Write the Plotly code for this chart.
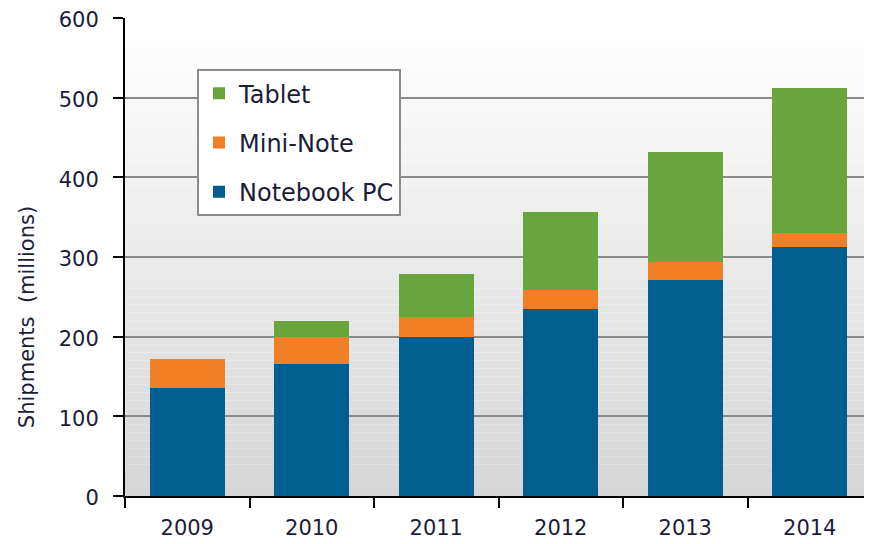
import plotly.graph_objects as go

years = ["2009", "2010", "2011", "2012", "2013", "2014"]
notebook_pc = [136, 166, 200, 235, 271, 312]
mini_note = [36, 33, 25, 23, 23, 18]
tablet = [0, 21, 54, 98, 138, 182]
y_ticks = [0, 100, 200, 300, 400, 500, 600]

FONT = "DejaVu Sans"
TXT = "#1c1c3a"

fig = go.Figure()
fig.add_trace(go.Bar(name="Notebook PC", x=years, y=notebook_pc, marker_color="#005E91",
                     marker_line_width=0, legendgroup="a", legendrank=3))
fig.add_trace(go.Bar(name="Mini-Note", x=years, y=mini_note, marker_color="#F07F25",
                     marker_line_width=0, legendgroup="b", legendrank=2))
fig.add_trace(go.Bar(name="Tablet", x=years, y=tablet, marker_color="#6AA43C",
                     marker_line_width=0, legendgroup="c", legendrank=1))

# vertical gradient background (white at top to light gray at bottom)
n = 60
shapes = []
for i in range(n):
    t = i / (n - 1)  # 0 at bottom, 1 at top
    c = int(round(214 + (255 - 214) * t))
    shapes.append(dict(type="rect", xref="paper", yref="paper",
                       x0=0, x1=1, y0=i / n, y1=(i + 1) / n,
                       fillcolor=f"rgb({c},{c},{c})", line_width=0, layer="below"))

fig.update_layout(
    barmode="stack",
    bargap=0.4,
    width=864, height=536,
    margin=dict(l=117, r=0, t=10, b=48, autoexpand=False),
    paper_bgcolor="white",
    plot_bgcolor="rgba(0,0,0,0)",
    shapes=shapes,
    font=dict(family=FONT, size=21, color=TXT),
    legend=dict(
        x=0.0964, y=0.893, xanchor="left", yanchor="top",
        traceorder="grouped", bgcolor="white",
        bordercolor="#8c8c8c", borderwidth=2,
        font=dict(family=FONT, size=24, color=TXT),
        tracegroupgap=15, itemwidth=30,
    ),
    xaxis=dict(
        showline=True, linecolor="black", linewidth=2,
        ticks="outside", ticklen=10, tickcolor="black", tickwidth=1.5,
        tickson="boundaries", showgrid=False,
        ticklabelstandoff=12,
        tickfont=dict(family=FONT, size=21, color=TXT),
    ),
    yaxis=dict(
        range=[0, 600], tickvals=y_ticks,
        showline=True, linecolor="black", linewidth=2,
        ticks="outside", ticklen=10, tickcolor="black", tickwidth=1.5,
        showgrid=True, gridcolor="#8a8a8a", gridwidth=1.5,
        zeroline=False,
        ticklabelstandoff=10,
        ticklabelshift=2,
        tickfont=dict(family=FONT, size=21, color=TXT),
    ),
    annotations=[dict(
        text="Shipments  (millions)", textangle=-90,
        xref="paper", yref="paper", x=-0.131, y=0.3745,
        xanchor="center", yanchor="middle", showarrow=False,
        font=dict(family=FONT, size=21, color=TXT),
    )],
)

fig.write_html("out.html")
